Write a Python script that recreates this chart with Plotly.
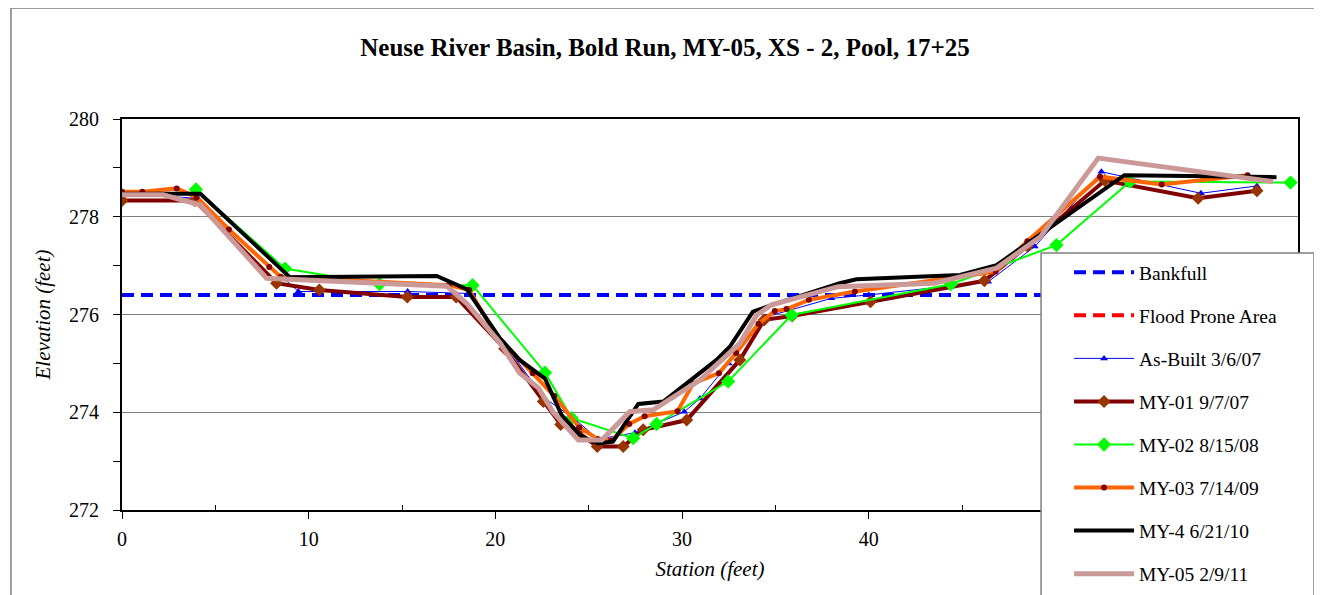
import plotly.graph_objects as go

title = "Neuse River Basin, Bold Run, MY-05, XS - 2, Pool, 17+25"

x_tick_vals = [0, 10, 20, 30, 40, 50, 60]
x_tick_text = ["0", "10", "20", "30", "40", "", ""]  # 50 and 60 sit behind the legend
y_tick_vals = [272, 274, 276, 278, 280]

bankfull_x = [0, 62.6]
bankfull_y = [276.4, 276.4]

flood_x = [0, 62.6]
flood_y = [None, None]

asbuilt_x = [0, 3.9, 9.45, 15.3, 18.64, 20.5, 22.6, 24.26, 25.5, 27.48, 30.12, 30.96, 32.5, 34.5, 38.0, 40.0, 46.4, 48.9, 52.47, 57.8, 60.8]
asbuilt_y = [278.48, 278.38, 276.47, 276.47, 276.43, 275.4, 274.3, 273.86, 273.45, 273.58, 274.01, 274.28, 275.0, 275.95, 276.33, 276.4, 276.67, 277.39, 278.92, 278.48, 278.63]

my01_x = [0, 3.9, 8.28, 10.57, 15.28, 17.9, 20.5, 22.57, 23.5, 24.4, 25.46, 26.85, 27.92, 30.25, 33.1, 34.4, 35.9, 40.1, 46.2, 48.5, 52.65, 57.65, 60.8]
my01_y = [278.33, 278.33, 276.64, 276.5, 276.36, 276.36, 275.3, 274.22, 273.75, 273.6, 273.3, 273.3, 273.64, 273.84, 275.07, 275.89, 275.97, 276.26, 276.69, 277.4, 278.74, 278.38, 278.53]

my02_x = [3.96, 8.73, 13.8, 18.78, 22.66, 24.09, 27.39, 28.64, 32.47, 35.87, 44.4, 50.06, 54.0, 62.6]
my02_y = [278.56, 276.94, 276.62, 276.6, 274.81, 273.88, 273.47, 273.76, 274.63, 275.99, 276.62, 277.42, 278.72, 278.7]

my03_x = [0, 1.09, 2.93, 4.0, 5.73, 7.89, 8.5, 17.5, 18.6, 20.0, 22.0, 23.16, 24.5, 25.5, 26.2, 27.17, 28.0, 29.76, 30.6, 31.98, 32.9, 34.1, 34.97, 35.6, 36.8, 39.26, 46.8, 48.5, 52.4, 55.7, 60.3]
my03_y = [278.51, 278.51, 278.58, 278.4, 277.74, 276.97, 276.77, 276.6, 276.5, 275.6, 274.8, 274.33, 273.69, 273.45, 273.42, 273.76, 273.92, 274.02, 274.59, 274.8, 275.21, 275.81, 276.07, 276.11, 276.3, 276.47, 276.88, 277.5, 278.82, 278.66, 278.85]

my4_x = [0, 4.2, 9.0, 16.86, 18.46, 20.25, 21.3, 22.66, 23.55, 24.62, 25.51, 26.3, 27.66, 29.0, 31.85, 32.56, 33.8, 34.8, 38.45, 39.35, 44.9, 46.85, 53.7, 61.85]
my4_y = [278.47, 278.47, 276.76, 276.79, 276.52, 275.51, 275.07, 274.69, 273.94, 273.5, 273.36, 273.4, 274.17, 274.22, 275.07, 275.34, 276.06, 276.19, 276.64, 276.72, 276.81, 277.01, 278.85, 278.81]

my05_x = [0, 2.2, 4.2, 7.75, 17.4, 18.46, 20.25, 21.3, 22.3, 23.1, 24.45, 25.7, 27.2, 28.46, 30.96, 33.1, 34.0, 34.8, 38.36, 41.1, 43.5, 46.85, 49.2, 52.3, 61.67]
my05_y = [278.45, 278.45, 278.24, 276.74, 276.58, 276.23, 275.42, 274.8, 274.5, 274.0, 273.43, 273.43, 274.01, 274.05, 274.66, 275.41, 275.99, 276.2, 276.57, 276.6, 276.64, 276.95, 277.59, 279.2, 278.72]

FONT = "Liberation Serif, Times New Roman, serif"

fig = go.Figure()

fig.add_trace(go.Scatter(x=bankfull_x, y=bankfull_y, mode="lines", name="Bankfull",
                         line=dict(color="#0000FF", width=4, dash="12px,7px"), legendgroup="a"))
fig.add_trace(go.Scatter(x=flood_x, y=flood_y, mode="lines", name="Flood Prone Area",
                         line=dict(color="#FF0000", width=4, dash="12px,7px"), legendgroup="b"))
fig.add_trace(go.Scatter(x=asbuilt_x, y=asbuilt_y, mode="lines+markers", name="As-Built 3/6/07",
                         line=dict(color="#0000FF", width=1),
                         marker=dict(symbol="triangle-up", size=7, color="#0000FF"), legendgroup="c"))
fig.add_trace(go.Scatter(x=my01_x, y=my01_y, mode="lines+markers", name="MY-01 9/7/07",
                         line=dict(color="#800000", width=4),
                         marker=dict(symbol="diamond", size=10, color="#993300"), legendgroup="d"))
fig.add_trace(go.Scatter(x=my02_x, y=my02_y, mode="lines+markers", name="MY-02 8/15/08",
                         line=dict(color="#00FF00", width=2),
                         marker=dict(symbol="diamond", size=11, color="#00FF00"), legendgroup="e"))
fig.add_trace(go.Scatter(x=my03_x, y=my03_y, mode="lines+markers", name="MY-03 7/14/09",
                         line=dict(color="#FF6600", width=4),
                         marker=dict(symbol="circle", size=6, color="#800000"), legendgroup="f"))
fig.add_trace(go.Scatter(x=my4_x, y=my4_y, mode="lines", name="MY-4 6/21/10",
                         line=dict(color="#000000", width=4), legendgroup="g"))
fig.add_trace(go.Scatter(x=my05_x, y=my05_y, mode="lines", name="MY-05 2/9/11",
                         line=dict(color="#CC9999", width=5), legendgroup="h"))

# page body adds an 8px offset; plot area targeted at x 122..1298, y 119..510 on screen
fig.update_layout(
    width=1314, height=587,
    margin=dict(l=114, r=24, t=111, b=85, autoexpand=False),
    paper_bgcolor="white", plot_bgcolor="white",
    font=dict(family=FONT, size=20, color="black"),
    title=dict(text="<b>" + title + "</b>", x=0.5, xanchor="center", xref="container",
               y=0.9336, yanchor="middle", yref="container",
               font=dict(family=FONT, size=25, color="black")),
    showlegend=True,
    legend=dict(x=0.8053, y=0.657, xanchor="left", yanchor="top",
                bgcolor="rgba(0,0,0,0)", borderwidth=0,
                font=dict(family=FONT, size=19.5, color="black"),
                tracegroupgap=14.7, itemwidth=60, traceorder="grouped", maxheight=2000),
    shapes=[
        dict(type="rect", xref="paper", yref="paper",
             x0=-0.0944, x1=1.2, y0=-0.5, y1=1.284,
             line=dict(color="#808080", width=1.5), layer="below"),
        dict(type="rect", xref="paper", yref="paper",
             x0=0.7815, x1=1.0136, y0=-0.5, y1=0.657,
             fillcolor="white", line=dict(color="#808080", width=1.5), layer="above"),
    ],
    xaxis=dict(range=[0, 63], tickvals=x_tick_vals, ticktext=x_tick_text,
               ticks="outside", ticklen=7, tickwidth=1, tickcolor="black",
               minor=dict(tickvals=[5, 15, 25, 35, 45, 55], ticks="inside", ticklen=5, tickcolor="black"),
               showline=True, linecolor="black", linewidth=2, mirror=True,
               showgrid=False, zeroline=False, automargin=False,
               tickfont=dict(family=FONT, size=20), ticklabelstandoff=3,
               title=dict(text="<i>Station (feet)</i>", font=dict(family=FONT, size=21), standoff=12)),
    xaxis2=dict(overlaying="x", matches="x", anchor="y", side="bottom",
                tickvals=x_tick_vals, ticks="inside", ticklen=7, tickcolor="black",
                showticklabels=False, showline=False, showgrid=False, zeroline=False),
    yaxis=dict(range=[272, 280], tickvals=y_tick_vals,
               ticks="outside", ticklen=7, tickwidth=1, tickcolor="black",
               minor=dict(tickvals=[273, 275, 277, 279], ticks="outside", ticklen=7, tickcolor="black"),
               showline=True, linecolor="black", linewidth=2, mirror=True,
               showgrid=True, gridcolor="#808080", gridwidth=1, zeroline=False, automargin=False,
               tickfont=dict(family=FONT, size=20), ticklabelstandoff=10,
               title=dict(text="<i>Elevation (feet)</i>", font=dict(family=FONT, size=21), standoff=13)),
)

fig.write_html("out.html")
